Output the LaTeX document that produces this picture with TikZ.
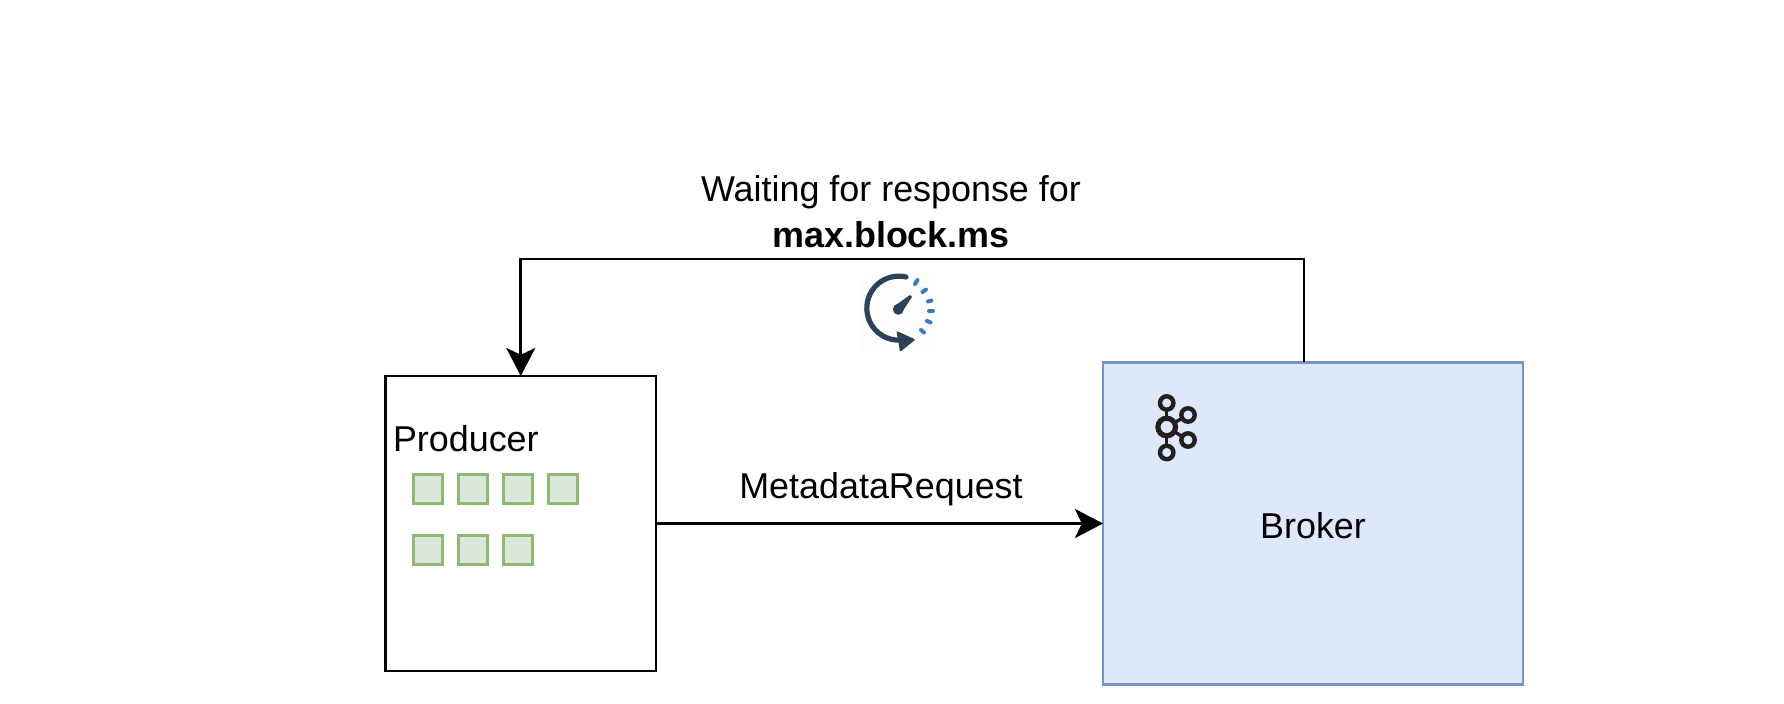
\documentclass[tikz,border=0pt]{standalone}
\usepackage{fontspec}
\setmainfont{Liberation Sans}
\usetikzlibrary{arrows.meta}
\definecolor{brokerfill}{HTML}{DEE8FA}
\definecolor{brokerline}{HTML}{7594C2}
\definecolor{msgfill}{HTML}{DAE7DA}
\definecolor{msgline}{HTML}{8FB875}
\definecolor{gaugedark}{HTML}{2F4158}
\definecolor{gaugeblue}{HTML}{3A7BBF}
\definecolor{kafkadark}{HTML}{231F20}
\tikzset{
  label text/.style={inner sep=0pt,outer sep=0pt,font=\fontsize{17.95}{21}\selectfont,text=black},
  conn/.style={draw=black,line width=1.35pt,-{Stealth[length=14pt,width=14.5pt,inset=3.4pt]}},
  prodbox/.style={draw=black,fill=white,line width=1.35pt,inner sep=0pt,outer sep=0pt,minimum width=135.25pt,minimum height=147.5pt},
  brokerbox/.style={draw=brokerline,fill=brokerfill,line width=1.4pt,inner sep=0pt,outer sep=0pt,minimum width=210pt,minimum height=161pt},
  msg/.style={draw=msgline,fill=msgfill,line width=1.5pt,inner sep=0pt,outer sep=0pt,minimum width=14.8pt,minimum height=14.8pt},
  kring/.style={draw=kafkadark,line width=2.2pt,fill=none},
  klink/.style={draw=kafkadark,line width=1.7pt},
  gdot/.style={draw=gaugeblue,line width=2pt,line cap=round},
}
\begin{document}
\begin{tikzpicture}[x=0.5pt,y=-0.5pt]
\useasboundingbox (0,0) rectangle (1784,704);
\fill[white] (0,0) rectangle (1784,704);

\node[prodbox] (producer) at (520.75,523.5) {};
\node[brokerbox] (broker) at (1313,523.5) {};

\coordinate (bt) at (1304,362);
\coordinate (c1) at (1304,259);
\coordinate (c2) at (520.75,259);
\draw[conn] (bt) -- (c1) -- (c2) -- (producer.north);
\draw[conn] (producer.east) -- (broker.west);

\node[label text,anchor=center] (waiting) at (891,192) {Waiting for response for};
\node[label text,anchor=center] (maxblock) at (891,235) {\bfseries max.block.ms};
\node[label text,anchor=center] (metadata) at (881,489) {MetadataRequest};
\node[label text,anchor=center] (brokerlabel) at (1313,526) {Broker};
\node[label text,anchor=west] (producerlabel) at (393,439) {Producer};

\foreach \n/\x/\y in {a/428/489,b/473/489,c/518/489,d/563/489,e/428/550,f/473/550,g/518/550}
  \node[msg] (m\n) at (\x,\y) {};

% gauge icon
\fill[gray!1.5] (860.5,274) rectangle (937,352);
\draw[gaugedark,line width=2.6pt,line cap=round] (906,277) arc[start angle=-77,end angle=-278,radius=32] ;
\fill[gaugedark,rounded corners=0.6pt] (896.5,331) -- (915.5,339.5) -- (900,352) -- cycle;
\fill[gaugedark] (898.3,309.3) circle[radius=5.5];
\fill[gaugedark] (894.5,306) -- (910,295) -- (912,297) -- (901.5,313) -- cycle;
\draw[gdot] (915,284) -- (917.5,280);
\draw[gdot] (922.5,292) -- (926,289.5);
\draw[gdot] (928,301.5) -- (931.5,300.5);
\draw[gdot] (929,311) -- (933,311);
\draw[gdot] (927,321) -- (930.5,322.5);
\draw[gdot] (921,330) -- (924,332.5);

% kafka icon
\coordinate (kc) at (1166.7,427);
\coordinate (kt) at (1166.7,403);
\coordinate (kb) at (1166.7,452.5);
\coordinate (kr1) at (1188,415);
\coordinate (kr2) at (1188,440);
\draw[klink] (kc) -- (kt);
\draw[klink] (kc) -- (kb);
\draw[klink] (kc) -- (kr1);
\draw[klink] (kc) -- (kr2);
\fill[brokerfill] (kc) circle[radius=7];
\foreach \p in {kt,kb,kr1,kr2} \fill[brokerfill] (\p) circle[radius=5];
\draw[kring,line width=2.6pt] (kc) circle[radius=8.8];
\draw[kring] (kt) circle[radius=6.7];
\draw[kring] (kb) circle[radius=6.7];
\draw[kring] (kr1) circle[radius=6.7];
\draw[kring] (kr2) circle[radius=6.7];
\end{tikzpicture}
\end{document}
